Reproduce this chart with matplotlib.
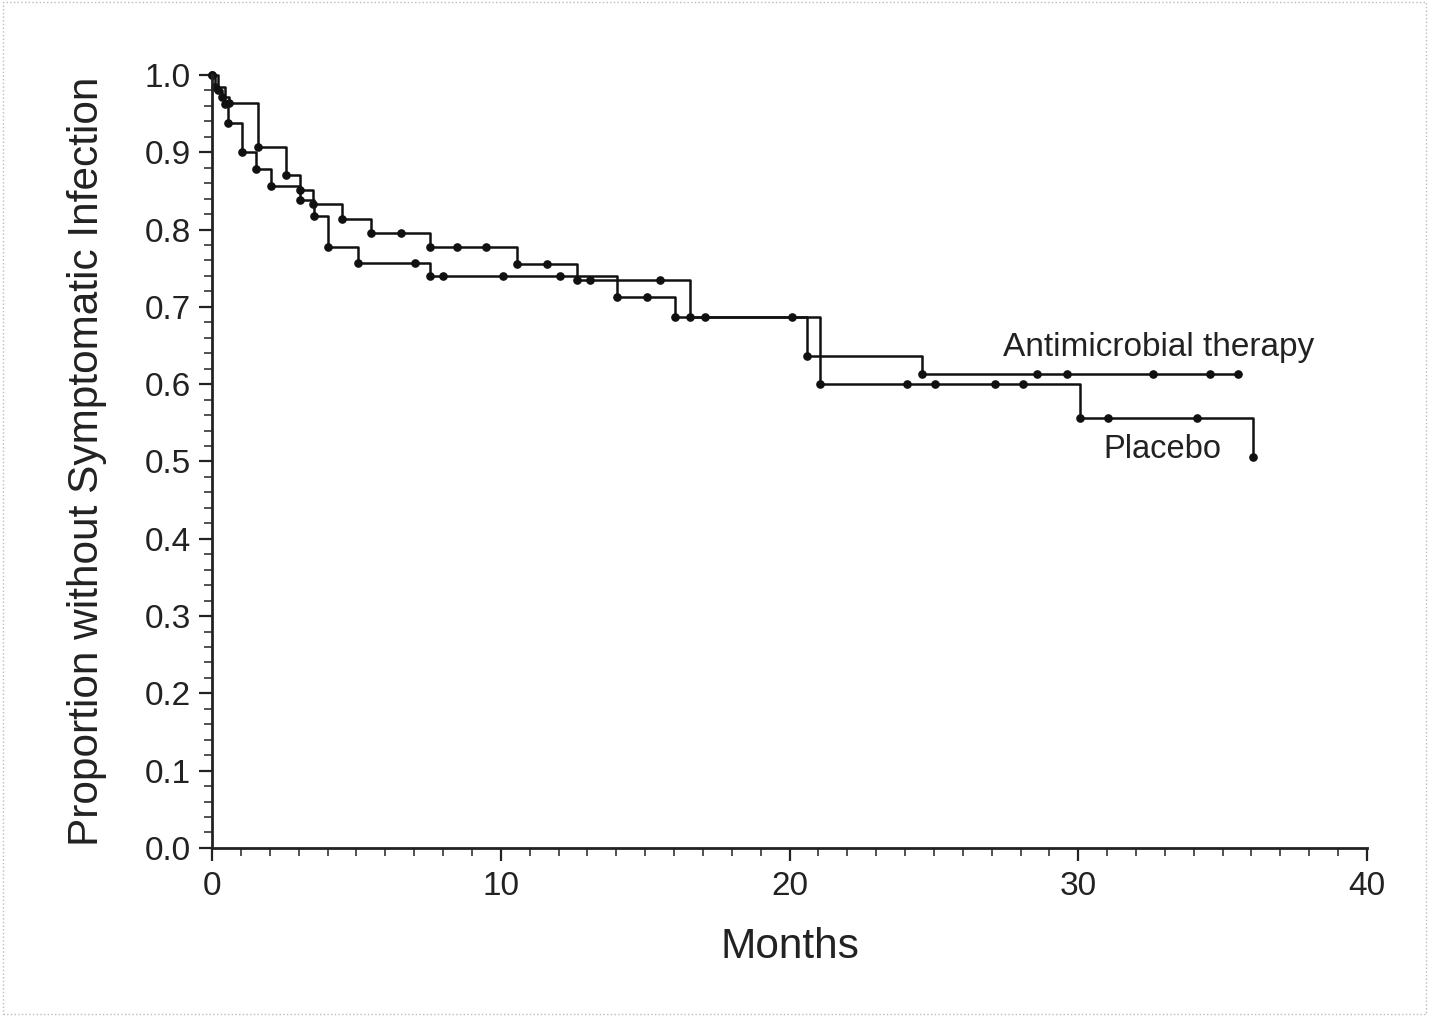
import numpy as np
import matplotlib.pyplot as plt
from matplotlib.ticker import MultipleLocator
from matplotlib.patches import Rectangle

plt.rcParams['font.family'] = ['Liberation Sans', 'DejaVu Sans']

# Kaplan-Meier data (months, proportion)
anti_event_t = [0.2, 0.35, 0.6, 1.6, 2.55, 3.05, 3.5, 4.5, 5.5, 7.55, 10.55, 12.65, 16.55, 20.6, 24.6]
anti_event_s = [0.98, 0.972, 0.964, 0.907, 0.871, 0.851, 0.833, 0.814, 0.796, 0.777, 0.755, 0.735, 0.687, 0.637, 0.613]
anti_censor_t = [6.55, 8.5, 9.5, 11.6, 13.1, 15.5, 17.07, 20.09, 28.58, 29.6, 32.6, 34.58, 35.55]
anti_end = 35.55

plac_event_t = [0.1, 0.45, 0.55, 1.04, 1.52, 2.04, 3.05, 3.53, 4.02, 5.06, 7.55, 14.03, 16.03, 21.06, 30.06, 36.05]
plac_event_s = [0.985, 0.962, 0.938, 0.90, 0.878, 0.857, 0.838, 0.817, 0.777, 0.757, 0.74, 0.713, 0.687, 0.60, 0.556, 0.506]
plac_censor_t = [7.03, 8.0, 10.08, 12.05, 15.06, 24.07, 25.04, 27.12, 28.09, 31.03, 34.11]
plac_end = 36.05

labels = ['Antimicrobial therapy', 'Placebo']


def surv_at(t, ev_t, ev_s):
    idx = np.searchsorted(ev_t, t, side='right') - 1
    return np.where(idx < 0, 1.0, np.array(ev_s)[np.clip(idx, 0, None)])


fig = plt.figure(figsize=(14.29, 10.16), dpi=100)
ax = fig.add_axes([0.1484, 0.1654, 0.8082, 0.7608])

for ev_t, ev_s, cen_t, end in [(anti_event_t, anti_event_s, anti_censor_t, anti_end),
                               (plac_event_t, plac_event_s, plac_censor_t, plac_end)]:
    t = [0] + ev_t + [end]
    s = [1.0] + ev_s + [ev_s[-1]]
    ax.plot(t, s, drawstyle='steps-post', color='#111111', lw=1.8, clip_on=False)
    ax.plot(ev_t, ev_s, 'o', color='#111111', ms=5.2, clip_on=False)
    ax.plot(cen_t, surv_at(cen_t, ev_t, ev_s), 'o', color='#111111', ms=5.2, clip_on=False)
    ax.plot([0], [1.0], 'o', color='#111111', ms=5.2, clip_on=False)

ax.text(27.4, 0.648, labels[0], fontsize=24, va='center', ha='left', color='#222222')
ax.text(30.86, 0.515, labels[1], fontsize=23.5, va='center', ha='left', color='#222222')

ax.set_xlim(0, 40)
ax.set_ylim(0, 1.0)
ax.xaxis.set_major_locator(MultipleLocator(10))
ax.xaxis.set_minor_locator(MultipleLocator(1))
ax.yaxis.set_major_locator(MultipleLocator(0.1))
ax.yaxis.set_minor_locator(MultipleLocator(0.02))
ax.yaxis.set_major_formatter(plt.FormatStrFormatter('%.1f'))

ax.tick_params(which='major', direction='out', length=9.5, width=1.6, labelsize=24, color='#222222', labelcolor='#222222')
ax.tick_params(which='minor', direction='out', length=5.5, width=1.3, color='#444444')
ax.tick_params(axis='x', which='major', pad=7)
ax.tick_params(axis='y', which='major', pad=6)

for side in ['top', 'right']:
    ax.spines[side].set_visible(False)
for side in ['left', 'bottom']:
    ax.spines[side].set_linewidth(2.0)
    ax.spines[side].set_color('#222222')

ax.set_xlabel('Months', fontsize=30.5, color='#222222', labelpad=18)
ax.set_ylabel('Proportion without Symptomatic Infection', fontsize=30.5, color='#222222', labelpad=27)

# dotted frame round the picture
fig.patches.append(Rectangle((0.002, 0.002), 0.996, 0.996, transform=fig.transFigure,
                             fill=False, ls=':', lw=1.0, ec='#bbbbbb'))

fig.savefig('out.png', dpi=100, facecolor='white')
